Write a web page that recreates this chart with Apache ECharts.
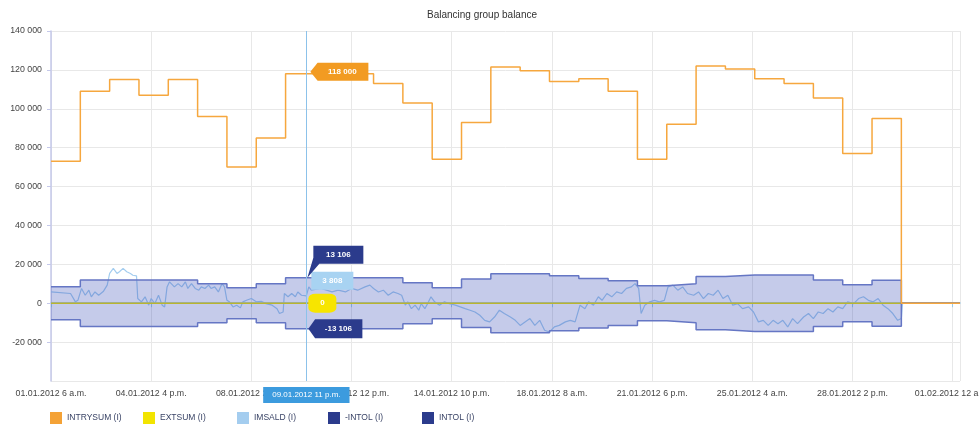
<!DOCTYPE html>
<html>
<head>
<meta charset="utf-8">
<script src="https://cdn.jsdelivr.net/npm/echarts@6/dist/echarts.min.js"></script>
<style>html,body{margin:0;padding:0;background:#fff}#c{width:979px;height:428px}</style>
</head>
<body>
<div id="c"></div>
<script>
// ---- data (hours counted from 01.01.2012 6 a.m.) ----
const seriesNames = ['INTRYSUM (I)', 'EXTSUM (I)', 'IMSALD (I)', '-INTOL (I)', 'INTOL (I)'];
const dayLength = 24;
const orangeDaily = [73000,109000,115000,107000,115000,96000,70000,85000,118000,118000,118000,113000,103000,74000,93000,121500,119500,114000,115500,109000,74000,92000,122000,120500,115500,113000,105500,77000,95000];
const intolDaily = [8500,12000,12000,12000,12000,10000,8000,10000,13106,13106,13106,13106,10500,8000,12500,15200,15200,14100,12700,11500,9000,10000,13700,14500,14500,14500,12000,9500,11800];
const imsaldHours = [0,16,20,22,25,28,31,33,36,39,43,46,48,51,54,56,59,62,65,67,70,71,74,77,80,82,85,88,91,93,95,97,101,104,107,110,112,115,118,121,123,126,129,131,134,137,140,142,144,146,149,152,155,157,160,164,168,172,176,181,185,187,190,191,194,197,200,202,205,209,211,213,221,230,235,241,246,251,257,261,264,268,272,276,280,284,287,290,292,295,298,301,303,306,309,311,314,318,322,326,331,335,339,343,347,351,355,359,363,367,371,376,380,384,388,392,396,400,404,408,412,416,421,425,429,433,437,440,444,448,451,455,459,463,467,471,475,478,481,483,486,490,494,498,502,505,509,513,517,521,526,530,534,538,542,546,550,554,558,562,566,571,575,579,583,587,591,595,599,603,607,611,616,620,624,628,632,636,640,644,648,652,657,661,665,669,673,677,681,685,689,693,696,697,744];
const imsaldValues = [5800,5000,700,1500,7600,4100,6700,3300,5800,4100,6200,9300,15300,17900,15300,16200,17900,16200,15300,14400,14100,2400,700,3300,-1000,2400,-200,4100,-1000,-1900,8400,11000,8400,10100,8400,11000,7600,10100,7600,6700,8400,7600,9300,7600,8400,5800,10100,8400,1500,700,-1900,-1000,-2400,700,1500,2400,700,1000,-200,-1000,-2800,-5300,-4500,5000,3300,5000,3300,5800,4100,3808,8400,6700,7600,5800,6700,5800,7600,6700,8400,9300,7600,5800,6700,4100,5800,5000,4100,-1000,700,-2800,-1000,-3600,-200,-2800,700,3300,700,-1000,700,-200,-1000,-1900,-2800,-3600,-4500,-6200,-8800,-9600,-7100,-3600,-5300,-7100,-8800,-11400,-9600,-7900,-11400,-8800,-13900,-14800,-12200,-11400,-9600,-8800,-9600,-1000,-2800,700,-1000,3300,1500,5000,3300,5800,5000,7600,8400,10100,7600,-5300,-1000,700,1500,700,1500,8400,9300,6700,8400,5000,4100,5800,2400,5000,4100,6700,2400,4100,-1000,-200,-2800,-1900,-4500,-9600,-8800,-11400,-8800,-10500,-8800,-12200,-7900,-10500,-7100,-5300,-7900,-4500,-5300,-2800,-4500,-1900,-2800,700,-200,2400,3300,1500,700,2400,-1000,-2800,-5300,-8800,-7900,0,0];
const axisEndHour = 744;
const xTickInterval = 82;
const cursorHour = 209;
const startTime = Date.UTC(2012, 0, 1, 6);

// ---- helpers ----
function stepData(daily, sign) {
  const out = [];
  daily.forEach((v, i) => { out.push([i * dayLength, sign * v]); out.push([(i + 1) * dayLength, sign * v]); });
  const endOfData = daily.length * dayLength;
  out.push([endOfData, 0]); out.push([axisEndHour, 0]);
  return out;
}
function pad(n) { return (n < 10 ? '0' : '') + n; }
function fmtHour(h) {
  const d = new Date(startTime + Math.round(h) * 3600000);
  let hr = d.getUTCHours();
  const ap = hr < 12 ? 'a.m.' : 'p.m.';
  hr = hr % 12; if (hr === 0) hr = 12;
  return pad(d.getUTCDate()) + '.' + pad(d.getUTCMonth() + 1) + '.' + d.getUTCFullYear() + ' ' + hr + ' ' + ap;
}
function fmtNum(v) {
  const s = String(Math.abs(Math.round(v))).replace(/\B(?=(\d{3})+(?!\d))/g, ' ');
  return (v < 0 ? '-' : '') + s;
}
function valueAt(daily, h) { return daily[Math.floor(h / dayLength)]; }
const imsaldData = imsaldHours.map((h, i) => [h, imsaldValues[i]]);
const yellowData = [[0, 0], [axisEndHour, 0]];
const cursorOrange = valueAt(orangeDaily, cursorHour);
const cursorIntol = valueAt(intolDaily, cursorHour);
const cursorImsald = imsaldValues[imsaldHours.indexOf(cursorHour)];

const FONT = 'Liberation Sans';
const NAVY = '#2b3b8c';
const bandLine = '#6576c4';
const bandFill = 'rgba(48,70,178,0.40)';
const tagLabel = { show: true, color: '#fff', fontSize: 8, fontWeight: 'bold', fontFamily: FONT, position: 'inside' };
const legendLefts = [50, 143, 237, 328, 422];

const chart = echarts.init(document.getElementById('c'), null, { renderer: 'canvas' });
chart.setOption({
  animation: false,
  backgroundColor: '#fff',
  title: { text: 'Balancing group balance', left: 477, textAlign: 'center', top: 5,
    textStyle: { fontSize: 10, fontWeight: 'normal', color: '#333', fontFamily: FONT } },
  grid: { left: 51, right: 19, top: 31, bottom: 47, containLabel: false, outerBoundsMode: 'none' },
  legend: seriesNames.map((n, i) => ({
    data: [n], left: legendLefts[i], bottom: 4, padding: 0, icon: 'rect', itemWidth: 12, itemHeight: 12, itemGap: 0,
    textStyle: { fontSize: 8.5, color: '#3a4466', fontFamily: FONT }
  })),
  xAxis: {
    type: 'value', min: 0, max: axisEndHour, interval: xTickInterval,
    axisLine: { lineStyle: { color: '#9ccbe6', width: 1.5 } },
    axisTick: { show: true, length: 4, lineStyle: { color: '#9ccbe6' } },
    axisLabel: { fontSize: 8.8, color: '#444', fontFamily: FONT, margin: 8, showMaxLabel: false, formatter: v => fmtHour(v) },
    splitLine: { show: true, lineStyle: { color: '#e8e8e8' } },
    axisPointer: {
      show: true, type: 'line', value: cursorHour, status: 'show', snap: false, triggerTooltip: false,
      lineStyle: { color: '#8cc2ea', width: 1, type: 'solid' },
      label: { show: true, formatter: p => fmtHour(p.value), backgroundColor: '#3c9bde', color: '#fff',
        fontSize: 8, fontFamily: FONT, padding: [4, 9, 4, 9], margin: 6, borderRadius: 0 }
    }
  },
  yAxis: {
    type: 'value', min: -40000, max: 140000, interval: 20000,
    axisLine: { show: true, lineStyle: { color: '#c4c8ea', width: 1.5 } },
    axisTick: { show: true, length: 4, lineStyle: { color: '#c4c8ea' } },
    axisLabel: { fontSize: 8.8, color: '#444', fontFamily: FONT, margin: 9, showMinLabel: false, formatter: v => fmtNum(v) },
    splitLine: { show: true, lineStyle: { color: '#e8e8e8' } }
  },
  series: [
    {
      name: 'IMSALD (I)', type: 'line', data: imsaldData, showSymbol: false, z: 1,
      itemStyle: { color: '#a4cdef' }, lineStyle: { color: '#a4cdef', width: 1.2 },
      markPoint: { z: 20, data: [{ coord: [cursorHour, cursorImsald], value: cursorImsald,
        symbol: 'rect', symbolSize: [42, 18], symbolOffset: [26, -15],
        itemStyle: { color: '#a8d3f2' }, label: Object.assign({}, tagLabel, { formatter: p => fmtNum(p.value) }) }] }
    },
    {
      name: 'EXTSUM (I)', type: 'line', data: yellowData, showSymbol: false, z: 1,
      itemStyle: { color: '#f2e400' }, lineStyle: { color: '#eee000', width: 1.5 },
      markPoint: { z: 21, data: [{ coord: [cursorHour, 0], value: 0,
        symbol: 'roundRect', symbolSize: [28, 19], symbolOffset: [16, 0],
        itemStyle: { color: '#f7e500' }, label: Object.assign({}, tagLabel, { formatter: p => fmtNum(p.value) }) }] }
    },
    {
      name: '-INTOL (I)', type: 'line', data: stepData(intolDaily, -1), showSymbol: false, z: 2,
      itemStyle: { color: NAVY }, lineStyle: { color: bandLine, width: 1.5 },
      areaStyle: { color: bandFill, origin: 0 },
      markPoint: { z: 22, data: [{ coord: [cursorHour, -cursorIntol], value: -cursorIntol,
        symbol: 'path://M0,10L8,0L64,0L64,20L8,20Z', symbolSize: [54, 19], symbolOffset: [29, 0],
        itemStyle: { color: NAVY }, label: Object.assign({}, tagLabel, { offset: [3, 0], formatter: p => fmtNum(p.value) }) }] }
    },
    {
      name: 'INTOL (I)', type: 'line', data: stepData(intolDaily, 1), showSymbol: false, z: 2,
      itemStyle: { color: NAVY }, lineStyle: { color: bandLine, width: 1.5 },
      areaStyle: { color: bandFill, origin: 0 },
      markPoint: { z: 23, data: [{ coord: [cursorHour, cursorIntol], value: cursorIntol,
        symbol: 'path://M6,0L56,0L56,18L12,18L0,32L6,12Z', symbolSize: [56, 32], symbolOffset: [29, -16],
        itemStyle: { color: NAVY }, label: Object.assign({}, tagLabel, { offset: [3, -7], formatter: p => fmtNum(p.value) }) }] }
    },
    {
      name: 'INTRYSUM (I)', type: 'line', data: stepData(orangeDaily, 1), showSymbol: false, z: 3,
      itemStyle: { color: '#f4a236' }, lineStyle: { color: '#f6a73e', width: 1.5 },
      markPoint: { z: 24, data: [{ coord: [cursorHour, cursorOrange], value: cursorOrange,
        symbol: 'path://M0,10L8,0L64,0L64,20L8,20Z', symbolSize: [58, 18], symbolOffset: [33, -2],
        itemStyle: { color: '#f29b22' }, label: Object.assign({}, tagLabel, { offset: [3, 0], formatter: p => fmtNum(p.value) }) }] }
    }
  ]
});
</script>
</body>
</html>
